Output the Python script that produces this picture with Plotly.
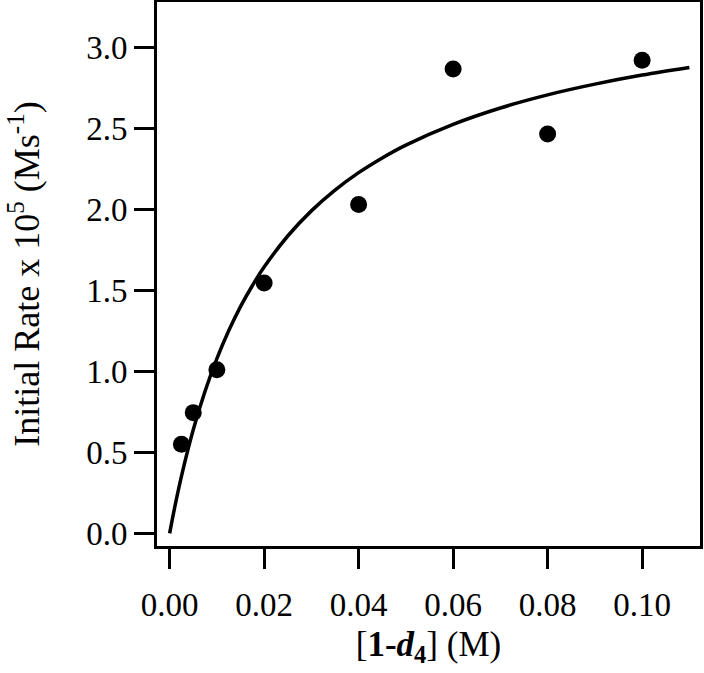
import plotly.graph_objects as go

# measured initial rates
conc = [0.0025, 0.005, 0.01, 0.02, 0.04, 0.06, 0.08, 0.10]
rate = [0.55, 0.745, 1.01, 1.545, 2.03, 2.865, 2.465, 2.92]

# fitted saturation curve
fit_conc = [0.0, 0.001, 0.0025, 0.005, 0.0075, 0.01, 0.0125, 0.015, 0.0175, 0.02,
            0.025, 0.03, 0.035, 0.04, 0.045, 0.05, 0.06, 0.07, 0.08, 0.09, 0.10, 0.11]
fit_rate = [0.0, 0.15, 0.352, 0.639, 0.877, 1.078, 1.25, 1.399, 1.528, 1.643,
            1.835, 1.99, 2.118, 2.226, 2.317, 2.396, 2.524, 2.625, 2.706, 2.772, 2.828, 2.875]

x_ticks = [0.0, 0.02, 0.04, 0.06, 0.08, 0.10]
x_labels = ["0.00", "0.02", "0.04", "0.06", "0.08", "0.10"]
y_ticks = [0.0, 0.5, 1.0, 1.5, 2.0, 2.5, 3.0]
y_labels = ["0.0", "0.5", "1.0", "1.5", "2.0", "2.5", "3.0"]

FONT = "Liberation Serif"

fig = go.Figure()
fig.add_trace(
    go.Scatter(
        x=fit_conc,
        y=fit_rate,
        mode="lines",
        line=dict(color="black", width=3.5, shape="spline"),
        showlegend=False,
    )
)
fig.add_trace(
    go.Scatter(
        x=conc,
        y=rate,
        mode="markers",
        marker=dict(color="black", size=17),
        showlegend=False,
    )
)

axis_common = dict(
    showline=True,
    linecolor="black",
    linewidth=2.8,
    mirror=True,
    showgrid=False,
    zeroline=False,
    automargin=False,
    ticks="outside",
    ticklen=20,
    tickwidth=2.5,
    tickcolor="black",
    tickfont=dict(family=FONT, size=33, color="black"),
)

fig.update_xaxes(
    range=[-0.00267, 0.11225],
    tickvals=x_ticks,
    ticktext=x_labels,
    ticklabelstandoff=7,
    title=dict(text="[<b>1-<i>d</i><sub>4</sub></b>] (M)", font=dict(family=FONT, size=35, color="black"), standoff=10),
    **axis_common,
)
fig.update_yaxes(
    range=[-0.078, 3.279],
    tickvals=y_ticks,
    ticktext=y_labels,
    title=dict(text="Initial Rate x 10<sup>5</sup> (Ms<sup>-1</sup>)", font=dict(family=FONT, size=36, color="black"), standoff=36),
    **axis_common,
)

fig.update_layout(
    width=704,
    height=673,
    margin=dict(l=157, r=4, t=2, b=127),
    plot_bgcolor="white",
    paper_bgcolor="white",
    font=dict(family=FONT, color="black"),
)

# drop the browser's default body margin so the figure sits at the page corner
fig.write_html(
    "out.html",
    config={"displayModeBar": False},
    post_script="document.body.style.margin='0';",
)
